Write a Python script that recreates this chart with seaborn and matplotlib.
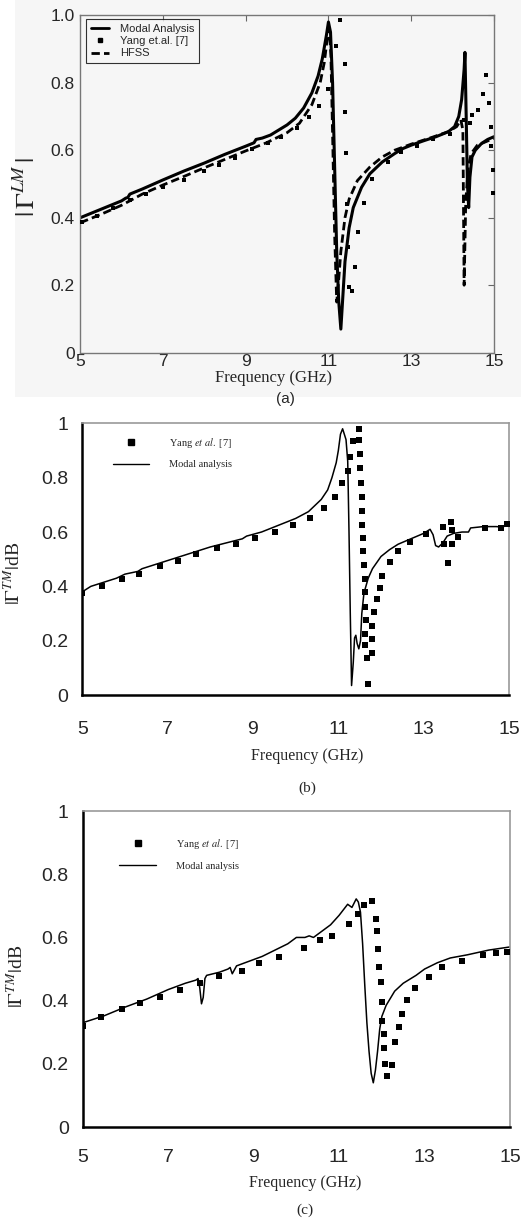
import numpy as np
import seaborn as sns
import matplotlib
matplotlib.use("Agg")
import matplotlib.pyplot as plt
from matplotlib.lines import Line2D
from matplotlib.patches import Rectangle

# ---- panel (a) data ----
a_modal_f = [5.0, 5.5, 6.0, 6.1, 6.15, 6.2, 6.5, 7.0, 7.5, 8.0, 8.5, 9.0, 9.2, 9.25, 9.4, 9.6,
             9.8, 10.0, 10.2, 10.4, 10.6, 10.75, 10.85, 10.95, 11.0, 11.05, 11.1, 11.15, 11.2,
             11.25, 11.3, 11.35, 11.4, 11.5, 11.6, 11.8, 12.0, 12.3, 12.6, 12.8, 13.0, 13.3,
             13.6, 13.9, 14.05, 14.15, 14.22, 14.28, 14.3, 14.33, 14.36, 14.39, 14.42, 14.47,
             14.55, 14.7, 14.85, 15.0]
a_modal_v = [0.400, 0.425, 0.450, 0.458, 0.460, 0.470, 0.485, 0.512, 0.538, 0.562, 0.588, 0.612,
             0.622, 0.632, 0.636, 0.645, 0.660, 0.675, 0.695, 0.725, 0.770, 0.820, 0.870, 0.940,
             0.980, 0.950, 0.800, 0.550, 0.300, 0.150, 0.070, 0.170, 0.270, 0.370, 0.430, 0.490,
             0.530, 0.565, 0.590, 0.605, 0.615, 0.628, 0.640, 0.655, 0.670, 0.700, 0.750, 0.840,
             0.890, 0.700, 0.500, 0.430, 0.520, 0.580, 0.600, 0.620, 0.632, 0.640]
a_hfss_f = [5.0, 5.5, 6.0, 6.5, 7.0, 7.5, 8.0, 8.5, 9.0, 9.5, 10.0, 10.3, 10.6, 10.8, 10.9, 10.97,
            11.02, 11.06, 11.1, 11.15, 11.2, 11.25, 11.3, 11.4, 11.5, 11.7, 12.0, 12.3, 12.6,
            13.0, 13.5, 13.9, 14.1, 14.2, 14.25, 14.28, 14.32, 14.38, 14.45, 14.6, 15.0]
a_hfss_v = [0.385, 0.410, 0.437, 0.470, 0.497, 0.522, 0.548, 0.573, 0.598, 0.622, 0.652, 0.680,
            0.735, 0.800, 0.860, 0.930, 0.960, 0.880, 0.650, 0.350, 0.150, 0.220, 0.300, 0.400,
            0.455, 0.510, 0.550, 0.580, 0.600, 0.618, 0.638, 0.655, 0.670, 0.690, 0.660, 0.200,
            0.450, 0.550, 0.590, 0.615, 0.635]
a_yang_f = [5.05, 5.4, 5.8, 6.2, 6.6, 7.0, 7.5, 8.0, 8.35, 8.75, 9.15, 9.54, 9.86, 10.24, 10.53,
            10.77, 10.98, 11.19, 11.29, 11.40, 11.40, 11.43, 11.46, 11.48, 11.50, 11.58, 11.65,
            11.72, 11.87, 12.05, 12.43, 12.75, 13.15, 13.53, 13.93, 14.27, 14.43, 14.48, 14.62,
            14.73, 14.81, 14.89, 14.94, 14.94, 14.99, 14.99]
a_yang_v = [0.386, 0.405, 0.428, 0.452, 0.470, 0.490, 0.513, 0.537, 0.555, 0.578, 0.603, 0.621,
            0.640, 0.665, 0.698, 0.731, 0.781, 0.910, 0.986, 0.855, 0.714, 0.593, 0.440, 0.314,
            0.194, 0.184, 0.255, 0.359, 0.443, 0.516, 0.566, 0.594, 0.614, 0.632, 0.647, 0.690,
            0.682, 0.704, 0.720, 0.766, 0.822, 0.739, 0.670, 0.613, 0.541, 0.474]

# ---- panel (b) data ----
b_modal_f = [5.0, 5.2, 5.5, 5.8, 6.0, 6.3, 6.4, 6.8, 7.2, 7.6, 8.0, 8.5, 8.75, 8.85, 9.2, 9.6,
             10.0, 10.3, 10.5, 10.6, 10.75, 10.85, 10.95, 11.0, 11.05, 11.1, 11.18, 11.22, 11.25,
             11.28, 11.31, 11.35, 11.38, 11.41, 11.44, 11.48, 11.52, 11.55, 11.6, 11.7, 11.8,
             12.0, 12.2, 12.4, 12.7, 13.0, 13.15, 13.22, 13.28, 13.35, 13.45, 13.55, 13.7, 13.9,
             14.05, 14.1, 14.4, 14.7, 14.85, 15.0]
b_modal_v = [0.380, 0.400, 0.415, 0.430, 0.445, 0.455, 0.465, 0.485, 0.505, 0.525, 0.545, 0.565,
             0.575, 0.585, 0.600, 0.625, 0.650, 0.675, 0.705, 0.720, 0.755, 0.800, 0.855, 0.900,
             0.960, 0.980, 0.940, 0.860, 0.600, 0.300, 0.035, 0.120, 0.210, 0.220, 0.190, 0.170,
             0.200, 0.300, 0.375, 0.430, 0.465, 0.510, 0.535, 0.555, 0.575, 0.595, 0.610, 0.590,
             0.550, 0.545, 0.560, 0.585, 0.595, 0.600, 0.600, 0.615, 0.620, 0.620, 0.618, 0.630]
b_yang_f = [5.0, 5.46, 5.92, 6.34, 6.82, 7.25, 7.66, 8.16, 8.6, 9.05, 9.52, 9.94, 10.33, 10.67,
            10.92, 11.09, 11.23, 11.27, 11.35, 11.48, 11.48, 11.5, 11.5, 11.52, 11.55, 11.56,
            11.56, 11.57, 11.58, 11.61, 11.63, 11.63, 11.63, 11.65, 11.63, 11.63, 11.67, 11.7,
            11.8, 11.8, 11.8, 11.84, 11.9, 11.98, 12.03, 12.2, 12.39, 12.68, 13.05, 13.46, 13.64,
            13.67, 13.48, 13.66, 13.57, 13.81, 14.43, 14.81, 14.95]
b_yang_v = [0.377, 0.402, 0.426, 0.447, 0.475, 0.494, 0.519, 0.540, 0.556, 0.577, 0.600, 0.625,
            0.652, 0.690, 0.728, 0.779, 0.826, 0.877, 0.936, 0.940, 0.980, 0.888, 0.837, 0.782,
            0.730, 0.677, 0.627, 0.577, 0.531, 0.477, 0.428, 0.380, 0.325, 0.276, 0.225, 0.184,
            0.136, 0.039, 0.155, 0.206, 0.254, 0.306, 0.352, 0.393, 0.438, 0.488, 0.530, 0.562,
            0.594, 0.620, 0.638, 0.607, 0.556, 0.556, 0.487, 0.583, 0.615, 0.615, 0.629]

# ---- panel (c) data ----
c_modal_f = [5.0, 5.5, 6.0, 6.5, 7.0, 7.4, 7.65, 7.7, 7.74, 7.78, 7.82, 7.86, 7.9, 8.2, 8.4, 8.45,
             8.5, 8.6, 8.9, 9.2, 9.5, 9.8, 10.0, 10.2, 10.3, 10.4, 10.6, 10.8, 11.0, 11.2, 11.3,
             11.4, 11.45, 11.5, 11.55, 11.6, 11.65, 11.7, 11.75, 11.8, 11.85, 11.9, 11.95, 12.0,
             12.1, 12.3, 12.5, 12.8, 13.0, 13.3, 13.6, 14.0, 14.5, 15.0]
c_modal_v = [0.330, 0.352, 0.380, 0.405, 0.435, 0.455, 0.465, 0.470, 0.440, 0.390, 0.410, 0.470,
             0.480, 0.490, 0.500, 0.505, 0.485, 0.510, 0.525, 0.540, 0.560, 0.580, 0.600, 0.600,
             0.605, 0.600, 0.620, 0.640, 0.670, 0.705, 0.695, 0.722, 0.712, 0.680, 0.580, 0.450,
             0.330, 0.240, 0.170, 0.140, 0.180, 0.240, 0.310, 0.350, 0.385, 0.430, 0.455, 0.480,
             0.500, 0.520, 0.535, 0.545, 0.560, 0.570]
c_yang_f = [5.0, 5.44, 5.92, 6.33, 6.8, 7.28, 7.75, 8.2, 8.72, 9.13, 9.6, 10.18, 10.55, 10.83,
            11.22, 11.45, 11.58, 11.78, 11.86, 11.89, 11.91, 11.93, 11.97, 12.01, 12.01, 12.04,
            12.04, 12.07, 12.12, 12.23, 12.3, 12.41, 12.47, 12.6, 12.78, 13.11, 13.41, 13.88,
            14.36, 14.67, 14.92]
c_yang_v = [0.321, 0.347, 0.372, 0.392, 0.413, 0.434, 0.455, 0.477, 0.495, 0.519, 0.539, 0.568,
            0.593, 0.606, 0.644, 0.673, 0.702, 0.714, 0.658, 0.619, 0.563, 0.507, 0.458, 0.395,
            0.337, 0.295, 0.250, 0.200, 0.160, 0.197, 0.268, 0.316, 0.358, 0.402, 0.440, 0.476,
            0.505, 0.526, 0.544, 0.551, 0.553]

x_ticks = [5, 7, 9, 11, 13, 15]
a_ytick_labels = ["0", "0.2", "0.4", "0.6", "0.8", "1.0"]
bc_ytick_labels = ["0", "0.2", "0.4", "0.6", "0.8", "1"]

sns.set_style("white")
plt.rcParams["font.family"] = ["Liberation Sans", "DejaVu Sans"]
plt.rcParams["mathtext.fontset"] = "stix"
SERIF = ["Liberation Serif", "DejaVu Serif"]

fig = plt.figure(figsize=(5.21, 12.2), dpi=100)
fig.patch.set_facecolor("white")
bg = "#f6f6f6"
fig.patches.append(Rectangle((0.0288, 0.6746), 0.9712, 0.3254, transform=fig.transFigure,
                             facecolor=bg, edgecolor="none", zorder=-5))

# ================= (a) =================
ax = fig.add_axes([0.154, 0.7109, 0.794, 0.2766])
ax.set_facecolor(bg)
sns.lineplot(x=a_modal_f, y=a_modal_v, ax=ax, color="k", lw=2.2, sort=False, estimator=None)
sns.lineplot(x=a_hfss_f, y=a_hfss_v, ax=ax, color="k", lw=2.0, sort=False, estimator=None,
             linestyle=(0, (3, 1.5)))
sns.scatterplot(x=a_yang_f, y=a_yang_v, ax=ax, color="k", marker="s", s=9, linewidth=0, zorder=3)
ax.set_xlim(5, 15)
ax.set_ylim(0, 1)
ax.set_xticks(x_ticks)
ax.set_yticks([0, 0.2, 0.4, 0.6, 0.8, 1.0])
ax.set_yticklabels(a_ytick_labels)
for s in ax.spines.values():
    s.set_color("#777777")
    s.set_linewidth(1.0)
ax.tick_params(direction="in", top=True, right=True, length=4, width=0.8, color="#666666",
               labelsize=12.5)
ax.tick_params(axis="x", pad=1)
ax.tick_params(axis="y", pad=4)
ax.set_xlabel("Frequency (GHz)", family=SERIF, fontsize=12)
ax.xaxis.set_label_coords(0.466, -0.052)
ax.set_ylabel(r"$|\,\Gamma^{LM}\,|$", fontsize=19)
ax.yaxis.set_label_coords(-0.097, 0.492)
handles = [Line2D([], [], color="k", lw=2),
           Line2D([], [], color="k", marker="s", ms=3, ls="none"),
           Line2D([], [], color="k", lw=2, ls=(0, (3, 1.5)))]
leg = ax.legend(handles, ["Modal Analysis", "Yang et.al. [7]", "HFSS"], loc="upper left",
                bbox_to_anchor=(0.014, 0.989), borderaxespad=0, fontsize=8, fancybox=False,
                handlelength=1.6, handletextpad=1.0, labelspacing=0.2, borderpad=0.45,
                frameon=True)
leg.get_frame().set_edgecolor("black")
leg.get_frame().set_linewidth(0.8)
leg.get_frame().set_facecolor(bg)
fig.text(0.547, 0.673, "(a)", ha="center", va="center", fontsize=11)


def style_bc(ax, ylabel, lab_xy, leg_xy, xpad):
    ax.set_xlim(5, 15)
    ax.set_ylim(0, 1)
    ax.set_xticks(x_ticks)
    ax.set_yticks([0, 0.2, 0.4, 0.6, 0.8, 1.0])
    ax.set_yticklabels(bc_ytick_labels)
    for side in ("left", "bottom"):
        ax.spines[side].set_color("black")
        ax.spines[side].set_linewidth(1.8)
    for side in ("top", "right"):
        ax.spines[side].set_color("#999999")
        ax.spines[side].set_linewidth(1.2)
    ax.tick_params(direction="in", length=6, width=1.5, color="black", labelsize=14)
    ax.tick_params(axis="x", pad=xpad)
    ax.tick_params(axis="y", pad=10)
    ax.set_xlabel("Frequency (GHz)", family=SERIF, fontsize=11.5)
    ax.xaxis.set_label_coords(*lab_xy)
    ax.set_ylabel(ylabel, family=SERIF, fontsize=14)
    h = [Line2D([], [], color="k", marker="s", ms=4.5, ls="none"),
         Line2D([], [], color="k", lw=1)]
    ax.legend(h, [r"Yang $\mathit{et\ al.}$ [7]", "Modal analysis"], loc="upper left",
              bbox_to_anchor=leg_xy, borderaxespad=0, borderpad=0, frameon=False,
              prop={"family": SERIF, "size": 7.5}, handlelength=3.5, handletextpad=1.9,
              labelspacing=1.0)


# ================= (b) =================
ax = fig.add_axes([0.158, 0.4303, 0.819, 0.2227])
sns.lineplot(x=b_modal_f, y=b_modal_v, ax=ax, color="k", lw=1.1, sort=False, estimator=None)
sns.scatterplot(x=b_yang_f, y=b_yang_v, ax=ax, color="k", marker="s", s=22, linewidth=0,
                zorder=3)
style_bc(ax, r"$|\Gamma^{TM}|$dB", (0.527, -0.195), (0.072, 0.955), 19)
ax.yaxis.set_label_coords(-0.137, 0.449)
fig.text(0.589, 0.354, "(b)", ha="center", va="center", fontsize=11, family=SERIF)

# ================= (c) =================
ax = fig.add_axes([0.1587, 0.0762, 0.8203, 0.259])
sns.lineplot(x=c_modal_f, y=c_modal_v, ax=ax, color="k", lw=1.1, sort=False, estimator=None)
sns.scatterplot(x=c_yang_f, y=c_yang_v, ax=ax, color="k", marker="s", s=22, linewidth=0,
                zorder=3)
style_bc(ax, r"$|\mathit{\Gamma}^{TM}|$dB", (0.52, -0.152), (0.0857, 0.918), 16)
ax.yaxis.set_label_coords(-0.13, 0.476)
fig.text(0.585, 0.0082, "(c)", ha="center", va="center", fontsize=11, family=SERIF)

fig.savefig("out.png", dpi=100)
